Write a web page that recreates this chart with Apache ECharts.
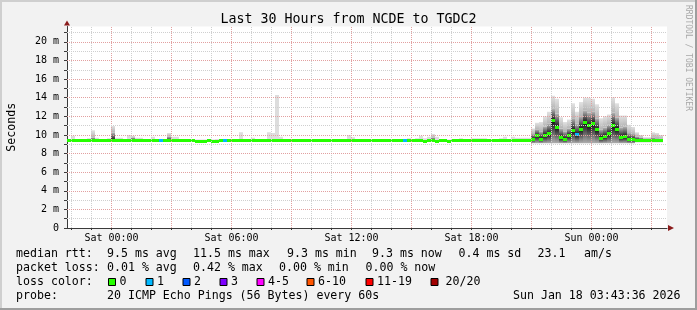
<!DOCTYPE html>
<html>
<head>
<meta charset="utf-8">
<script src="https://cdn.jsdelivr.net/npm/echarts@6/dist/echarts.min.js"></script>
<style>
html,body{margin:0;padding:0;background:#f2f2f2;}
#c{width:697px;height:310px;}
</style>
</head>
<body>
<div id="c"></div>
<script>
// ---------------- data ----------------
const titleText = 'Last 30 Hours from NCDE to TGDC2';
const START_HOUR = -2.225;     // hours relative to Sat 00:00 (left edge of plot)
const END_HOUR = 27.775;       // right edge of plot (30 h window)
const STEP_HOURS = 0.2;        // 12-minute consolidated buckets
const Y_MAX = 21.65;           // ms at top of plot

const xTickHours  = [0, 6, 12, 18, 24];
const xTickLabels = ['Sat 00:00', 'Sat 06:00', 'Sat 12:00', 'Sat 18:00', 'Sun 00:00'];
const yTickValues = [0, 2, 4, 6, 8, 10, 12, 14, 16, 18, 20];

const _ = null;
// median rtt per bucket (ms)
const median = [
  9.4, 9.4, 9.4, 9.4, 9.4, 9.4, 9.4, 9.4, 9.4, 9.4,
  9.4, 9.4, 9.4, 9.4, 9.4, 9.4, 9.4, 9.4, 9.4, 9.4,
  9.4, 9.4, 9.4, 9.4, 9.4, 9.4, 9.4, 9.4, 9.4, 9.4,
  9.4, 9.4, 9.3, 9.3, 9.3, 9.4, 9.3, 9.3, 9.4, 9.4,
  9.4, 9.4, 9.4, 9.4, 9.4, 9.4, 9.4, 9.4, 9.4, 9.4,
  9.4, 9.4, 9.4, 9.4, 9.4, 9.4, 9.4, 9.4, 9.4, 9.4,
  9.4, 9.4, 9.4, 9.4, 9.4, 9.4, 9.4, 9.4, 9.4, 9.4,
  9.4, 9.4, 9.4, 9.4, 9.4, 9.4, 9.4, 9.4, 9.4, 9.4,
  9.4, 9.4, 9.4, 9.4, 9.4, 9.4, 9.4, 9.4, 9.4, 9.3,
  9.4, 9.4, 9.3, 9.4, 9.4, 9.3, 9.4, 9.4, 9.4, 9.4,
  9.4, 9.4, 9.4, 9.4, 9.35, 9.35, 9.35, 9.35, 9.35, 9.35,
  9.35, 9.35, 9.35, 9.35, 9.35, 9.35, 9.54, 9.9, 9.55, 9.9,
  10.1, 11.5, 10.84, 9.68, 9.5, 9.9, 10.43, 10.03, 10.63, 11.34,
  10.97, 11.2, 10.54, 9.65, 9.8, 10.1, 10.97, 10.63, 9.73, 9.8,
  9.5, 9.5, 9.44, 9.44, 9.35, 9.35, 9.35, 9.35, 9.35, _
];
// highest ping per bucket (top of the light smoke)
const smokeMax = [
  9.5, 9.9, 9.5, 9.5, 9.5, 9.65, 10.5, 9.7, 9.5, 9.5,
  9.65, 10.97, 9.7, 9.7, 9.5, 10.0, 9.9, 9.7, 9.7, 9.5,
  9.5, 9.8, 9.5, 9.5, 9.5, 10.2, 9.8, 9.8, 9.5, 9.5,
  9.5, 9.5, 9.5, 9.5, 9.5, 9.5, 9.5, 9.55, 9.55, 9.5,
  9.5, 9.5, 9.55, 10.3, 9.55, 9.55, 9.7, 9.5, 9.5, 9.5,
  10.3, 10.2, 14.3, 9.8, 9.55, 9.55, 9.55, 9.5, 9.55, 9.5,
  9.5, 9.5, 9.55, 9.5, 9.5, 9.5, 9.5, 9.55, 9.55, 9.5,
  10.0, 9.75, 9.5, 9.5, 9.5, 9.55, 9.55, 9.5, 9.5, 9.55,
  9.5, 9.55, 9.55, 9.55, 9.5, 9.65, 9.5, 9.65, 9.9, 9.65,
  9.8, 10.1, 9.8, 9.55, 9.5, 9.5, 9.5, 9.5, 9.65, 9.5,
  9.5, 9.65, 9.65, 9.65, 9.65, 9.5, 9.5, 9.55, 9.65, 9.8,
  9.55, 9.8, 9.7, 9.7, 9.7, 9.7, 10.7, 11.3, 11.4, 12.0,
  12.5, 14.2, 13.9, 11.9, 11.4, 11.65, 13.4, 12.5, 13.55, 14.0,
  14.0, 13.9, 13.3, 11.8, 12.0, 12.2, 14.05, 13.4, 12.1, 12.1,
  11.1, 10.86, 10.3, 10.0, 9.75, 9.75, 10.3, 10.2, 10.0, _
];
// top of the dense (dark) smoke above the median
const smokeUpper = [
  _, _, _, _, _, _, 9.7, _, _, _,
  _, 10.25, _, _, _, _, 9.7, _, _, _,
  _, _, _, _, _, 9.8, _, _, _, _,
  _, _, _, _, _, _, _, _, _, _,
  _, _, _, _, _, _, _, _, _, _,
  _, _, _, _, _, _, _, _, _, _,
  _, _, _, _, _, _, _, _, _, _,
  _, _, _, _, _, _, _, _, _, _,
  _, _, _, _, _, _, _, _, _, _,
  _, 9.7, _, _, _, _, _, _, _, _,
  _, _, _, _, _, _, _, _, _, _,
  _, _, _, _, _, _, 10.1, 10.6, 10.4, 10.9,
  11.2, 12.8, 12.3, 10.7, 10.4, 10.7, 11.8, 11.2, 12.0, 12.6,
  12.4, 12.5, 11.8, 10.6, 10.8, 11.1, 12.4, 11.9, 10.8, 10.9,
  10.2, 10.1, 9.8, 9.7, 9.55, 9.55, 9.7, 9.65, 9.6, _
];
// lowest ping per bucket (bottom of the smoke below the median)
const smokeMin = [
  _, _, _, _, _, _, _, _, _, _,
  _, _, _, _, _, _, _, _, _, _,
  _, _, _, _, _, _, _, _, _, _,
  _, _, _, _, _, _, _, _, _, _,
  _, _, _, _, _, _, _, _, _, _,
  _, _, _, _, _, _, _, _, _, _,
  _, _, _, _, _, _, _, _, _, _,
  _, _, _, _, _, _, _, _, _, _,
  _, _, _, _, _, _, _, _, _, _,
  _, _, _, _, _, _, _, _, _, _,
  _, _, _, _, _, _, _, _, _, _,
  _, _, _, _, _, _, 9.1, 9.1, 9.1, 9.1,
  9.1, 9.1, 9.1, 9.1, 9.1, 9.1, 9.1, 9.1, 9.1, 9.1,
  9.1, 9.1, 9.1, 9.1, 9.1, 9.1, 9.1, 9.1, 9.1, 9.1,
  9.1, 9.1, 9.2, 9.2, 9.2, 9.2, 9.2, 9.2, 9.2, _
];
// lost pings (of 20) per bucket
const lostPings = [
  0, 0, 0, 0, 0, 0, 0, 0, 0, 0,
  0, 0, 0, 0, 0, 0, 0, 0, 0, 0,
  0, 0, 0, 1, 0, 0, 0, 0, 0, 0,
  0, 0, 0, 0, 0, 0, 0, 0, 0, 1,
  0, 0, 0, 0, 0, 0, 0, 0, 0, 0,
  0, 0, 0, 0, 0, 0, 0, 0, 0, 0,
  0, 0, 0, 0, 0, 0, 0, 0, 0, 0,
  0, 0, 0, 0, 0, 0, 0, 0, 0, 0,
  0, 0, 0, 0, 1, 0, 0, 0, 0, 0,
  0, 0, 0, 0, 0, 0, 0, 0, 0, 0,
  0, 0, 0, 0, 0, 0, 0, 0, 0, 0,
  0, 0, 0, 0, 0, 0, 0, 0, 0, 0,
  0, 0, 0, 0, 0, 0, 0, 1, 0, 0,
  0, 0, 0, 0, 0, 0, 0, 0, 0, 0,
  0, 0, 0, 0, 0, 0, 0, 0, 0, _
];

const lossLabels = ['0', '1', '2', '3', '4-5', '6-10', '11-19', '20/20'];
const lossUpper  = [0, 1, 2, 3, 5, 10, 19, 20];
const lossColors = ['#26ff00', '#00b8ff', '#0059ff', '#7e00ff', '#ff00ff', '#ff5500', '#ff0000', '#a10000'];

const statsRtt  = [['median rtt:', 16], ['9.5 ms avg', 107], ['11.5 ms max', 193], ['9.3 ms min', 287], ['9.3 ms now', 372], ['0.4 ms sd', 458.5], ['23.1', 537.5], ['am/s', 584]];
const statsLoss = [['packet loss:', 16], ['0.01 % avg', 107], ['0.42 % max', 193], ['0.00 % min', 279], ['0.00 % now', 365.5]];
const probeText = [['probe:', 16], ['20 ICMP Echo Pings (56 Bytes) every 60s', 107]];
const dateText = 'Sun Jan 18 03:43:36 2026';

// ---------------- styling ----------------
const FONT = 'DejaVu Sans Mono';
const MAJOR = '#e2a0a0';
const MINOR = '#cfcfcf';
const AXIS = '#3a3a3a';
const ARROW = '#8b1c1c';

function lossColor(n) {
  for (let k = 0; k < lossUpper.length; k++) if (n <= lossUpper[k]) return lossColors[k];
  return lossColors[lossColors.length - 1];
}
function ok(v) { return v !== null && v !== undefined && isFinite(v); }
function grad(a, b) {
  return new echarts.graphic.LinearGradient(0, 0, 0, 1, [{offset: 0, color: a}, {offset: 1, color: b}]);
}

const seriesData = median.map((m, i) => [START_HOUR + i * STEP_HOURS, m, smokeMax[i], smokeUpper[i], smokeMin[i], lostPings[i]]);

function smokeItem(params, api) {
  const t = api.value(0), med = api.value(1), hi = api.value(2), up = api.value(3), lo = api.value(4);
  if (!ok(med)) return;
  const x0 = api.coord([t, med])[0];
  const x1 = api.coord([t + STEP_HOURS, med])[0];
  const yOf = v => api.coord([t, v])[1];
  const yMed = yOf(med);
  const kids = [];
  const rect = (yTop, yBot, fill) => ({type: 'rect', shape: {x: x0, y: yTop, width: x1 - x0, height: Math.max(0, yBot - yTop)}, style: {fill: fill}});
  const hasUp = ok(up);
  if (ok(hi) && hi > med) {
    const yHi = yOf(hi);
    const yBot = hasUp ? yOf(up) : yMed;
    kids.push(rect(yHi, yBot, hasUp ? grad('#e2e2e2', '#b4b4b4') : '#dddddd'));
  }
  if (hasUp) kids.push(rect(yOf(up), yMed, grad('#b4b4b4', '#111111')));
  if (ok(lo)) kids.push(rect(yMed, yOf(lo), grad('#111111', '#b0b0b0')));
  return {type: 'group', children: kids};
}

function medianItem(params, api) {
  const t = api.value(0), med = api.value(1), loss = api.value(5);
  if (!ok(med)) return;
  const x0 = api.coord([t, med])[0];
  const x1 = api.coord([t + STEP_HOURS, med])[0];
  const yMed = api.coord([t, med])[1];
  const yTop = Math.round(yMed - 1.5);
  return {type: 'rect', shape: {x: x0, y: yTop, width: x1 - x0, height: 3}, style: {fill: lossColor(ok(loss) ? loss : 0)}};
}

// grid lines (drawn above the smoke like rrdtool)
const gridLines = [];
for (let h = Math.ceil(START_HOUR); h <= END_HOUR; h++) {
  gridLines.push({xAxis: h, lineStyle: {color: h % 3 === 0 ? MAJOR : MINOR, type: [1, 1], width: 1}});
}
for (let v = 1; v <= Math.floor(Y_MAX); v++) {
  gridLines.push({yAxis: v, lineStyle: {color: v % 2 === 0 ? MAJOR : MINOR, type: [1, 1], width: 1}});
}
const hourTicks = [];
for (let h = Math.ceil(START_HOUR); h <= END_HOUR; h++) hourTicks.push(h);
const msTicks = [];
for (let v = 0; v <= Math.floor(Y_MAX); v++) msTicks.push(v);

const chart = echarts.init(document.getElementById('c'), null, {renderer: 'canvas', width: 697, height: 310});

const option = {
  animation: false,
  backgroundColor: '#f2f2f2',
  textStyle: {fontFamily: FONT},
  grid: {left: 67, right: 30, top: 26.5, bottom: 82, show: true, backgroundColor: '#ffffff', borderWidth: 0,
    containLabel: false, outerBoundsMode: 'none'},
  xAxis: {
    type: 'value', min: START_HOUR, max: END_HOUR,
    splitLine: {show: false},
    axisLine: {show: true, onZero: false, lineStyle: {color: AXIS, width: 1}},
    axisTick: {show: true, customValues: hourTicks, length: 2, lineStyle: {color: AXIS}},
    axisLabel: {
      customValues: xTickHours, margin: 5, fontSize: 10, color: '#000', fontFamily: FONT,
      formatter: v => xTickLabels[xTickHours.indexOf(Math.round(v))]
    }
  },
  yAxis: {
    type: 'value', min: 0, max: Y_MAX,
    name: 'Seconds', nameLocation: 'middle', nameRotate: 90, nameGap: 49,
    nameTextStyle: {fontSize: 11.6, color: '#000', fontFamily: FONT},
    splitLine: {show: false},
    axisLine: {show: true, onZero: false, lineStyle: {color: AXIS, width: 1}},
    axisTick: {show: true, customValues: msTicks, length: 3, lineStyle: {color: AXIS}},
    axisLabel: {
      customValues: yTickValues, margin: 8, fontSize: 10, color: '#000', fontFamily: FONT,
      formatter: v => (v === 0 ? '0' : v + ' m')
    }
  },
  series: [
    {type: 'custom', name: 'smoke', renderItem: smokeItem, data: seriesData, encode: {x: 0, y: 1}, z: 2, silent: true, clip: true},
    {type: 'line', name: 'grid', data: [], z: 3, silent: true,
      markLine: {silent: true, symbol: 'none', label: {show: false}, animation: false, data: gridLines}},
    {type: 'custom', name: 'median', renderItem: medianItem, data: seriesData, encode: {x: 0, y: 1}, z: 4, silent: true, clip: true}
  ]
};
chart.setOption(option);

// ---------------- text, legend, border, arrows ----------------
const g = [];
const txt = (text, x, y, align) => ({type: 'text', x: x, y: y, silent: true,
  style: {text: text, font: '11.6px ' + FONT, fill: '#000', align: align || 'left', verticalAlign: 'middle'}});
g.push({type: 'text', x: 348.5, y: 20, silent: true, style: {text: titleText, font: '13.3px ' + FONT, fill: '#000', align: 'center', verticalAlign: 'middle'}});
g.push({type: 'text', x: 688, y: 58, rotation: -Math.PI / 2, silent: true, style: {text: 'RRDTOOL / TOBI OETIKER', font: '8px ' + FONT, fill: '#a8a8a8', align: 'center', verticalAlign: 'middle'}});
statsRtt.forEach(([s, x]) => g.push(txt(s, x, 254)));
statsLoss.forEach(([s, x]) => g.push(txt(s, x, 268)));
g.push(txt('loss color:', 16, 282));
const boxX = [108, 145.5, 182.5, 219.5, 256.5, 306.5, 365.5, 430.5];
const labX = [119.5, 157, 194, 231, 268, 318, 377, 445.5];
lossLabels.forEach((lab, k) => {
  g.push({type: 'rect', silent: true, shape: {x: boxX[k] + 0.5, y: 278.5, width: 7, height: 7}, style: {fill: lossColors[k], stroke: '#000', lineWidth: 1}});
  g.push(txt(lab, labX[k], 282));
});
probeText.forEach(([s, x]) => g.push(txt(s, x, 296)));
g.push(txt(dateText, 680.5, 296, 'right'));

// 3D border like rrdtool
g.push({type: 'rect', silent: true, shape: {x: 0, y: 0, width: 697, height: 2}, style: {fill: '#cfcfcf'}});
g.push({type: 'rect', silent: true, shape: {x: 0, y: 0, width: 2, height: 310}, style: {fill: '#cfcfcf'}});
g.push({type: 'rect', silent: true, shape: {x: 0, y: 308, width: 697, height: 2}, style: {fill: '#9e9e9e'}});
g.push({type: 'rect', silent: true, shape: {x: 695, y: 0, width: 2, height: 310}, style: {fill: '#9e9e9e'}});

// axis arrows placed through the axes' own scales
const pEnd = chart.convertToPixel({gridIndex: 0}, [END_HOUR, 0]);
const pTop = chart.convertToPixel({gridIndex: 0}, [START_HOUR, Y_MAX]);
g.push({type: 'polygon', silent: true, shape: {points: [[pEnd[0] + 1, pEnd[1] - 3], [pEnd[0] + 7, pEnd[1]], [pEnd[0] + 1, pEnd[1] + 3]]}, style: {fill: ARROW}});
g.push({type: 'polygon', silent: true, shape: {points: [[pTop[0] - 3, pTop[1] - 1], [pTop[0], pTop[1] - 6], [pTop[0] + 3, pTop[1] - 1]]}, style: {fill: ARROW}});

chart.setOption({graphic: g});
</script>
</body>
</html>
